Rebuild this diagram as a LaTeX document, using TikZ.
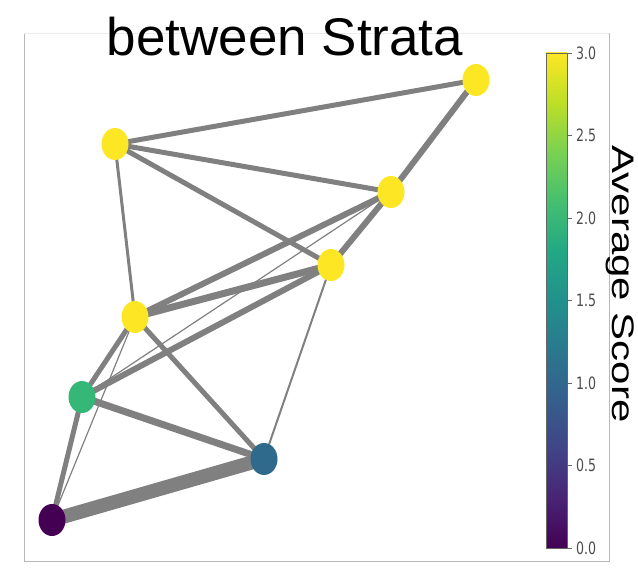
\documentclass[tikz,border=0pt]{standalone}
\usepackage{fontspec}
\setmainfont{Liberation Sans}
\newfontfamily\tickfont{DejaVu Sans}
\usetikzlibrary{shapes.geometric,backgrounds}

% viridis stops for the colour bar
\definecolor{vir0}{HTML}{440154}
\definecolor{vir1}{HTML}{482475}
\definecolor{vir2}{HTML}{414487}
\definecolor{vir3}{HTML}{355F8D}
\definecolor{vir4}{HTML}{2A788E}
\definecolor{vir5}{HTML}{21918C}
\definecolor{vir6}{HTML}{22A884}
\definecolor{vir7}{HTML}{44BF70}
\definecolor{vir8}{HTML}{7AD151}
\definecolor{vir9}{HTML}{BDDF26}
\definecolor{vir10}{HTML}{FDE725}
\definecolor{midgreen}{HTML}{35B778}
\definecolor{midblue}{HTML}{2F6A8D}
\definecolor{edgegray}{HTML}{808080}

\begin{document}
\begin{tikzpicture}[
  x=1pt,y=-1pt,
  dot/.style={ellipse, minimum width=27pt, minimum height=32pt, inner sep=0pt},
  link/.style={draw=edgegray, line cap=round},
  ticklabel/.style={font=\tickfont\fontsize{17}{17}\selectfont, text=black!70, anchor=west, inner sep=0pt}
]
\useasboundingbox (0,0) rectangle (638,585);
% axes frame
\draw[black!28] (24,33) -- (24,561) -- (609,561) -- (609,33);
\draw[black!8] (24,33) -- (609,33);
\node[font=\fontsize{53}{60}\selectfont, anchor=base] (title) at (285,56) {between Strata};

% strata
\node[dot, fill=vir10] (s1) at (476,80) {};
\node[dot, fill=vir10] (s2) at (115,144) {};
\node[dot, fill=vir10] (s3) at (391,192) {};
\node[dot, fill=vir10] (s4) at (331,265) {};
\node[dot, fill=vir10] (s5) at (135,317) {};
\node[dot, fill=midgreen] (s6) at (82,397) {};
\node[dot, fill=midblue] (s7) at (264,459) {};
\node[dot, fill=vir0] (s8) at (52,520) {};

\begin{scope}[on background layer]
\draw[link, line width=5pt] (s2.center) -- (s1.center); \draw[link, line width=6pt] (s1.center) -- (s3.center);
\draw[link, line width=5pt] (s2.center) -- (s3.center); \draw[link, line width=5pt] (s2.center) -- (s4.center);
\draw[link, line width=3pt] (s2.center) -- (s5.center); \draw[link, line width=6pt] (s3.center) -- (s4.center);
\draw[link, line width=6pt] (s3.center) -- (s5.center); \draw[link, line width=7pt] (s4.center) -- (s5.center);
\draw[link, line width=1.2pt] (s3.center) -- (s6.center); \draw[link, line width=6pt] (s4.center) -- (s6.center);
\draw[link, line width=2pt] (s4.center) -- (s7.center); \draw[link, line width=5pt] (s5.center) -- (s6.center);
\draw[link, line width=5pt] (s5.center) -- (s7.center); \draw[link, line width=1.2pt] (s5.center) -- (s8.center);
\draw[link, line width=7pt] (s6.center) -- (s7.center); \draw[link, line width=5pt] (s6.center) -- (s8.center);
\draw[link, line width=14pt] (s7.center) -- (s8.center);
\end{scope}

% colour bar
\shade[bottom color=vir0, top color=vir1] (546,548) rectangle (567,498.5);
\shade[bottom color=vir1, top color=vir2] (546,498.5) rectangle (567,449);
\shade[bottom color=vir2, top color=vir3] (546,449) rectangle (567,399.5);
\shade[bottom color=vir3, top color=vir4] (546,399.5) rectangle (567,350);
\shade[bottom color=vir4, top color=vir5] (546,350) rectangle (567,300.5);
\shade[bottom color=vir5, top color=vir6] (546,300.5) rectangle (567,251);
\shade[bottom color=vir6, top color=vir7] (546,251) rectangle (567,201.5);
\shade[bottom color=vir7, top color=vir8] (546,201.5) rectangle (567,152);
\shade[bottom color=vir8, top color=vir9] (546,152) rectangle (567,102.5);
\shade[bottom color=vir9, top color=vir10] (546,102.5) rectangle (567,53);
\draw[black!60, line width=0.8pt] (546,53) rectangle (567,548);
\draw[black!60, line width=0.8pt] (567,53) -- (572,53) (567,135.5) -- (572,135.5) (567,218) -- (572,218)
  (567,300.5) -- (572,300.5) (567,383) -- (572,383) (567,465.5) -- (572,465.5) (567,548) -- (572,548);
\node[ticklabel] (t30) at (576,53) {\scalebox{0.74}[1]{3.0}};
\node[ticklabel] (t25) at (576,135.5) {\scalebox{0.74}[1]{2.5}};
\node[ticklabel] (t20) at (576,218) {\scalebox{0.74}[1]{2.0}};
\node[ticklabel] (t15) at (576,300.5) {\scalebox{0.74}[1]{1.5}};
\node[ticklabel] (t10) at (576,383) {\scalebox{0.74}[1]{1.0}};
\node[ticklabel] (t05) at (576,465.5) {\scalebox{0.74}[1]{0.5}};
\node[ticklabel] (t00) at (576,548) {\scalebox{0.74}[1]{0.0}};
\node[rotate=-90, anchor=base, inner sep=0pt, font=\fontsize{42}{42}\selectfont] (cblabel) at (612,284) {\scalebox{1}[0.74]{Average Score}};
\end{tikzpicture}
\end{document}
